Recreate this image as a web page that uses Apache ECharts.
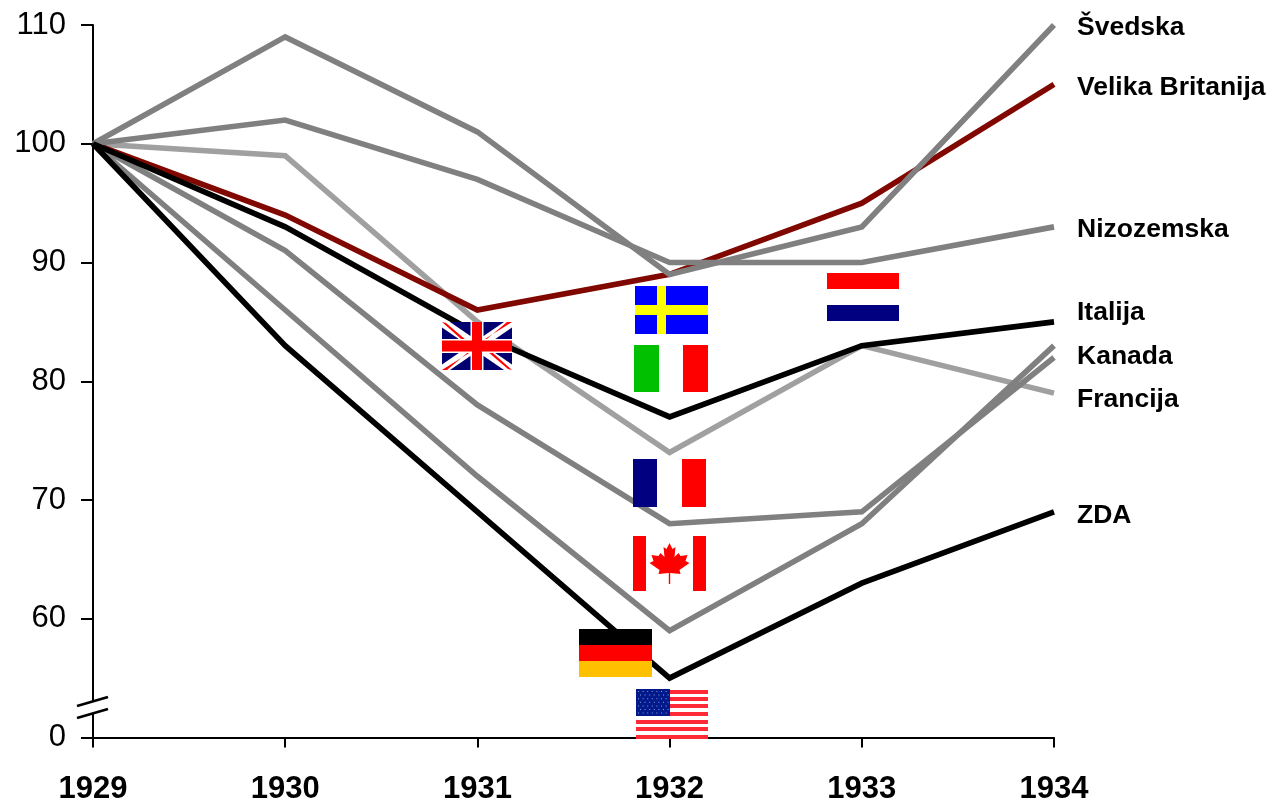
<!DOCTYPE html>
<html>
<head>
<meta charset="utf-8">
<style>html,body{margin:0;padding:0;background:#fff}#chart{width:1268px;height:799px}</style>
<script src="https://cdn.jsdelivr.net/npm/echarts@6/dist/echarts.min.js"></script>
</head>
<body>
<div id="chart"></div>
<script>
// Industrial output index, 1929 = 100
const years = ['1929', '1930', '1931', '1932', '1933', '1934'];
const svedska = [100, 109, 101, 89, 93, 110];
const britanija = [100, 94, 86, 89, 95, 105];
const nizozemska = [100, 102, 97, 90, 90, 93];
const italija = [100, 93, 84, 77, 83, 85];
const francija = [100, 99, 85, 74, 83, 79];
const njemacka = [100, 91, 78, 68, 69, 82];
const kanada = [100, 86, 72, 59, 68, 83];
const zda = [100, 83, 69, 55, 63, 69];

const FONT = '"Liberation Sans", Arial, sans-serif';
const GREY = '#808080';

function line(name, data, color, label, offsetY) {
  return {
    type: 'line', name, data, symbol: 'none', silent: true,
    lineStyle: { color, width: 5.6, join: 'miter', cap: 'butt' },
    endLabel: {
      show: !!label, formatter: label || '', distance: 23, offset: [0, offsetY || 0],
      color: '#000', fontFamily: FONT, fontWeight: 'bold', fontSize: 26.5
    }
  };
}

// Flag helpers: every shape sits above the series lines
const Z = 50;
const box = (x, y, w, h, fill) => ({ type: 'rect', z: Z, shape: { x, y, width: w, height: h }, style: { fill } });
const poly = (points, fill, lift) => ({ type: 'polygon', z: Z + (lift || 1), shape: { points }, style: { fill } });
const stroke = (pts, color, w) => ({
  type: 'polyline', z: Z + 1, shape: { points: pts }, style: { stroke: color, lineWidth: w, fill: null }
});

function britishFlag(x, y, w, h) {
  const r = x + w, b = y + h, cx = x + w / 2, cy = y + h / 2, dx = 8, dy = 5.5;
  return [
    box(x, y, w, h, '#000070'),
    // white diagonals, kept inside the flag's edges
    poly([[x, y], [x + dx, y], [r, b - dy], [r, b], [r - dx, b], [x, y + dy]], '#fff'),
    poly([[r, y], [r, y + dy], [x + dx, b], [x, b], [x, b - dy], [r - dx, y]], '#fff'),
    // thin red stripes, one along each arm
    poly([[x, y], [x + 4, y + 1], [cx - 4, cy], [cx - 8, cy]], '#f00', 2),
    poly([[r, y], [r - 5, y], [cx + 4, cy - 2], [cx, cy - 2]], '#f00', 2),
    poly([[r, b], [r - 4, b - 1], [cx + 4, cy], [cx + 8, cy]], '#f00', 2),
    poly([[x, b], [x + 5, b], [cx - 4, cy + 2], [cx, cy + 2]], '#f00', 2),
    Object.assign(box(cx - 6.5, y, 13, h, '#fff'), { z: Z + 3 }),
    Object.assign(box(x, cy - 7, w, 14, '#fff'), { z: Z + 3 }),
    Object.assign(box(cx - 5, y, 10, h, '#f00'), { z: Z + 4 }),
    Object.assign(box(x, cy - 5.5, w, 11, '#f00'), { z: Z + 4 })
  ];
}

function americanFlag(x, y, w, h) {
  const out = [box(x, y, w, h, '#fff')];
  [1, 8, 15, 23, 31, 38, 46].forEach(t => out.push(Object.assign(box(x, y + t, w, 4, '#ff2a36'), { z: Z + 1 })));
  out.push(Object.assign(box(x, y, 34, 27, '#001a8c'), { z: Z + 2 }));
  for (let row = 0; row < 7; row++) {
    for (let col = 0; col < 7; col++) {
      out.push(Object.assign(box(x + 2 + col * 4.6 + (row % 2) * 2, y + 2 + row * 3.6, 1, 1, '#8f9ad0'), { z: Z + 3 }));
    }
  }
  return out;
}

const leaf = [[0, -21], [3, -15], [6, -17], [5, -7], [9, -11], [11, -8], [18, -9], [16, -3], [20, -1],
  [10, 6], [11, 10], [0.7, 9], [0.7, 20], [-0.7, 20], [-0.7, 9], [-11, 10], [-10, 6], [-20, -1], [-16, -3],
  [-18, -9], [-11, -8], [-9, -11], [-5, -7], [-6, -17], [-3, -15]];

const flags = [].concat(
  britishFlag(442, 322, 70, 48),
  [box(579, 629, 73, 16, '#000'), box(579, 645, 73, 16, '#f00'), box(579, 661, 73, 16, '#ffc000')],
  americanFlag(636, 689, 72, 50),
  [box(633, 536, 73, 55, '#fff'), poly([[633, 536], [646, 536], [646, 591], [633, 591]], '#f00'),
   poly([[693, 536], [706, 536], [706, 591], [693, 591]], '#f00'),
   poly(leaf.map(p => [669.5 + p[0], 564 + p[1]]), '#f00')],
  [box(635, 286, 73, 48, '#00f'), poly([[657, 286], [666, 286], [666, 334], [657, 334]], '#ff0'),
   poly([[635, 305], [708, 305], [708, 315], [635, 315]], '#ff0')],
  [box(634, 345, 74, 47, '#fff'), poly([[634, 345], [659, 345], [659, 392], [634, 392]], '#00c000'),
   poly([[683, 345], [708, 345], [708, 392], [683, 392]], '#f00')],
  [box(633, 459, 73, 48, '#fff'), poly([[633, 459], [657, 459], [657, 507], [633, 507]], '#000080'),
   poly([[682, 459], [706, 459], [706, 507], [682, 507]], '#f00')],
  [box(827, 273, 72, 48, '#fff'), poly([[827, 273], [899, 273], [899, 289], [827, 289]], '#f00'),
   poly([[827, 305], [899, 305], [899, 321], [827, 321]], '#000080')]
);

// Break in the vertical axis between 0 and 60
const axisBreak = [
  { type: 'polygon', z: Z, shape: { points: [[85, 706], [101, 697], [101, 709], [85, 718]] }, style: { fill: '#fff' } },
  stroke([[77, 706], [108, 697]], '#000', 2.6),
  stroke([[77, 718], [108, 709]], '#000', 2.6)
];

const chart = echarts.init(document.getElementById('chart'), null, { renderer: 'canvas' });
chart.setOption({
  animation: false,
  backgroundColor: '#fff',
  grid: { left: 93, right: 214, top: 25, bottom: 61.5, outerBoundsMode: 'none' },
  xAxis: {
    type: 'category', data: years, boundaryGap: false,
    axisLine: { lineStyle: { color: '#000', width: 2 } },
    axisTick: { show: true, length: 10, alignWithLabel: true, lineStyle: { color: '#000', width: 2 } },
    axisLabel: { color: '#000', fontFamily: FONT, fontWeight: 'bold', fontSize: 31, margin: 36, interval: 0, showMinLabel: true, showMaxLabel: true }
  },
  yAxis: {
    type: 'value', min: 50, max: 110, interval: 10,
    axisLine: { show: true, lineStyle: { color: '#000', width: 2 } },
    axisTick: { show: true, length: 12, lineStyle: { color: '#000', width: 2 } },
    axisLabel: { color: '#000', fontFamily: FONT, fontSize: 31, margin: 27, padding: [4, 0, 0, 0], formatter: v => v === 50 ? '0' : String(v) },
    splitLine: { show: false }
  },
  series: [
    line('Francija', francija, '#a0a0a0', 'Francija', 7),
    line('Velika Britanija', britanija, '#800800', 'Velika Britanija', 3),
    line('Švedska', svedska, GREY, 'Švedska', 3),
    line('Nizozemska', nizozemska, GREY, 'Nizozemska', 3),
    line('Njemačka', njemacka, GREY),
    line('Kanada', kanada, GREY, 'Kanada', 11),
    line('Italija', italija, '#000', 'Italija', -9),
    line('ZDA', zda, '#000', 'ZDA', 4)
  ],
  graphic: { elements: flags.concat(axisBreak) }
});
</script>
</body>
</html>
